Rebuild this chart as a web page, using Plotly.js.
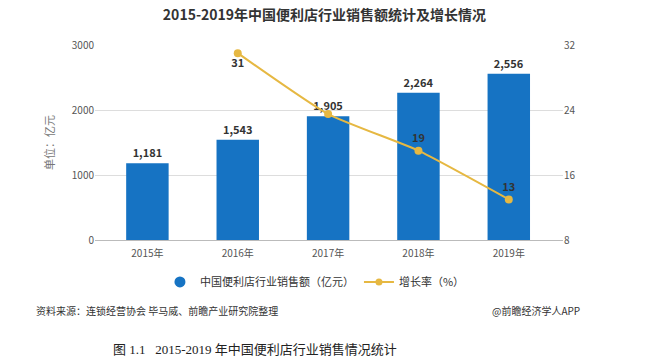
<!DOCTYPE html>
<html>
<head>
<meta charset="utf-8">
<script src="https://cdn.plot.ly/plotly-3.0.1.min.js"></script>
<style>html,body{margin:0;padding:0;background:#fff;}#chart{width:649px;height:362px;}</style>
</head>
<body>
<div id="chart"></div>
<script>
var years = ['2015年', '2016年', '2017年', '2018年', '2019年'];
var sales = [1181, 1543, 1905, 2264, 2556];
var growth = [null, 31, 23.5, 19, 13];
var growthLabels = ['', '31', '', '19', '13'];
var growthLabelPos = ['top center', 'bottom center', 'top center', 'top center', 'top center'];
var salesName = '中国便利店行业销售额（亿元）';
var growthName = '增长率（%）';

var FONT = '"Noto Sans CJK SC", "Noto Sans", sans-serif';
var BLUE = '#1673c3';
var GOLD = '#e6b842';

var traces = [
  {
    type: 'bar', x: years, y: sales, name: salesName, showlegend: false,
    marker: {color: BLUE}, width: 0.47,
    text: sales, texttemplate: '%{y:,}', textposition: 'outside',
    textfont: {family: FONT, size: 11, color: '#333', weight: 'bold'},
    cliponaxis: false, hoverinfo: 'skip'
  },
  {
    type: 'scatter', mode: 'lines+markers+text', x: years, y: growth, yaxis: 'y2',
    name: growthName, showlegend: false,
    line: {color: GOLD, width: 2, shape: 'spline', smoothing: 0.5},
    marker: {color: GOLD, size: 8},
    text: growthLabels, textposition: growthLabelPos,
    textfont: {family: FONT, size: 11, color: '#333', weight: 'bold'},
    cliponaxis: false, hoverinfo: 'skip'
  },
  {
    type: 'scatter', mode: 'markers', x: [null], y: [null], name: salesName,
    marker: {color: BLUE, size: 11, symbol: 'circle'}, showlegend: true
  },
  {
    type: 'scatter', mode: 'lines+markers', x: [null], y: [null], yaxis: 'y2', name: growthName,
    line: {color: GOLD, width: 2}, marker: {color: GOLD, size: 7}, showlegend: true
  }
];

var layout = {
  width: 649, height: 362,
  margin: {l: 95, r: 86, t: 45, b: 122},
  paper_bgcolor: '#fff', plot_bgcolor: '#fff',
  font: {family: FONT, size: 10, color: '#555'},
  title: {
    text: '<b>2015-2019年中国便利店行业销售额统计及增长情况</b>',
    x: 0.5, xanchor: 'center', y: 0.958, yanchor: 'middle',
    font: {family: FONT, size: 14, color: '#333'}
  },
  xaxis: {
    type: 'category', range: [-0.58, 4.6],
    showline: true, linecolor: '#bbb', linewidth: 1,
    showgrid: false, ticks: '', ticklabelstandoff: 4,
    tickfont: {family: FONT, size: 10, color: '#555'}
  },
  yaxis: {
    range: [0, 3000], dtick: 1000, showgrid: true, gridcolor: '#ddd',
    zeroline: false, showline: false, ticks: '',
    tickfont: {family: FONT, size: 10, color: '#555'},
    title: {text: '单位：亿元', standoff: 14, font: {family: FONT, size: 11, color: '#777'}}
  },
  yaxis2: {
    overlaying: 'y', side: 'right', range: [8, 32], dtick: 8,
    showgrid: false, zeroline: false, showline: false, ticks: '',
    tickfont: {family: FONT, size: 10, color: '#555'}
  },
  legend: {
    orientation: 'h', x: 0.47, xanchor: 'center', y: -0.215, yanchor: 'middle',
    font: {family: FONT, size: 11, color: '#333'}, itemwidth: 30
  },
  annotations: [
    {text: '资料来源：连锁经营协会 毕马威、前瞻产业研究院整理', xref: 'paper', yref: 'paper',
     x: -0.13, xanchor: 'left', y: -0.36, yanchor: 'middle', showarrow: false,
     font: {family: FONT, size: 10, color: '#333'}},
    {text: '@前瞻经济学人APP', xref: 'paper', yref: 'paper',
     x: 1.04, xanchor: 'right', y: -0.36, yanchor: 'middle', showarrow: false,
     font: {family: FONT, size: 10, color: '#333'}},
    {text: '图 1.1   2015-2019 年中国便利店行业销售情况统计', xref: 'paper', yref: 'paper',
     x: 0.342, xanchor: 'center', y: -0.56, yanchor: 'middle', showarrow: false,
     font: {family: '"Liberation Serif", "Noto Sans CJK SC", serif', size: 13, color: '#222'}}
  ]
};

Plotly.newPlot('chart', traces, layout, {displayModeBar: false, staticPlot: true});
</script>
</body>
</html>
